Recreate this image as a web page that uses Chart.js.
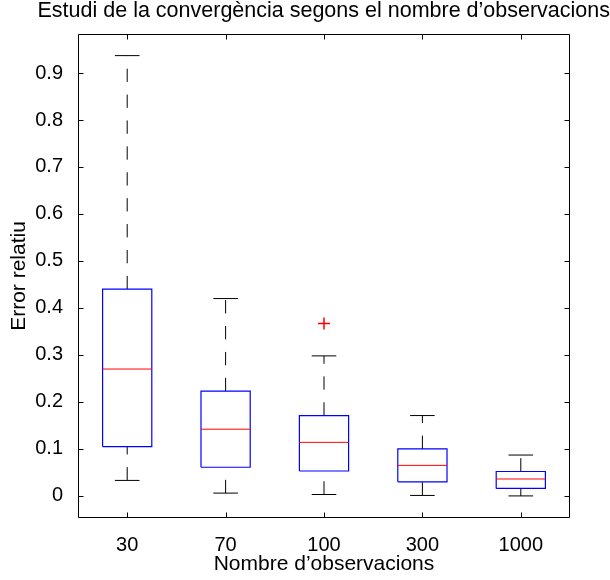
<!DOCTYPE html>
<html><head><meta charset="utf-8">
<script src="https://cdn.jsdelivr.net/npm/chart.js@4.4.1/dist/chart.umd.min.js"></script>
<style>html,body{margin:0;padding:0;background:#fff}#wrap{width:610px;height:580px}</style>
</head><body><div id="wrap"><canvas id="c" width="610" height="580"></canvas></div>
<script>
// ---- data ----
const categories   = ['30', '70', '100', '300', '1000'];
const lowerWhisker = [0.033, 0.006, 0.003, 0.001, 0.000];
const q1           = [0.105, 0.061, 0.053, 0.030, 0.016];
const median       = [0.270, 0.142, 0.114, 0.065, 0.036];
const q3           = [0.440, 0.223, 0.171, 0.100, 0.052];
const upperWhisker = [0.937, 0.420, 0.298, 0.171, 0.087];
const outliers     = [[], [], [0.367], [], []];
const yTicks       = [0, 0.1, 0.2, 0.3, 0.4, 0.5, 0.6, 0.7, 0.8, 0.9];
const yTickLabels  = ['0', '0.1', '0.2', '0.3', '0.4', '0.5', '0.6', '0.7', '0.8', '0.9'];
const titleText = 'Estudi de la convergència segons el nombre d’observacions';
const xTitle = 'Nombre d’observacions';
const yTitle = 'Error relatiu';

// ---- build datasets ----
const BOX_HALF = 0.25, CAP_HALF = 0.125;
const boxData = [], medData = [], whiskData = [], capData = [], outData = [];
categories.forEach((c, i) => {
  const p = i + 1;
  boxData.push({x: p - BOX_HALF, y: q1[i]}, {x: p + BOX_HALF, y: q1[i]}, {x: p + BOX_HALF, y: q3[i]},
               {x: p - BOX_HALF, y: q3[i]}, {x: p - BOX_HALF, y: q1[i]}, {x: p, y: null});
  medData.push({x: p - BOX_HALF, y: median[i]}, {x: p + BOX_HALF, y: median[i]}, {x: p, y: null});
  whiskData.push({x: p, y: q3[i]}, {x: p, y: upperWhisker[i]}, {x: p, y: null},
                 {x: p, y: lowerWhisker[i]}, {x: p, y: q1[i]}, {x: p, y: null});
  capData.push({x: p - CAP_HALF, y: upperWhisker[i]}, {x: p + CAP_HALF, y: upperWhisker[i]}, {x: p, y: null},
               {x: p - CAP_HALF, y: lowerWhisker[i]}, {x: p + CAP_HALF, y: lowerWhisker[i]}, {x: p, y: null});
  outliers[i].forEach(v => outData.push({x: p, y: v}));
});

const FONT = '"Liberation Sans", Arial, Helvetica, sans-serif';

const framePlugin = {
  id: 'frame',
  afterDatasetsDraw(chart) {
    const {ctx, chartArea, scales} = chart;
    const L = Math.round(chartArea.left) + 0.5, R = Math.round(chartArea.right) - 0.5;
    const T = Math.round(chartArea.top) + 0.5, B = Math.round(chartArea.bottom) - 0.5;
    const TL = 5;
    ctx.save();
    ctx.strokeStyle = '#000';
    ctx.lineWidth = 1;
    ctx.beginPath();
    ctx.rect(L, T, R - L, B - T);
    scales.y.ticks.forEach(t => {
      const yy = Math.round(scales.y.getPixelForValue(t.value)) + 0.5;
      ctx.moveTo(L, yy); ctx.lineTo(L + TL, yy);
      ctx.moveTo(R, yy); ctx.lineTo(R - TL, yy);
    });
    scales.x.ticks.forEach(t => {
      const xx = Math.round(scales.x.getPixelForValue(t.value)) + 0.5;
      ctx.moveTo(xx, B); ctx.lineTo(xx, B - TL);
      ctx.moveTo(xx, T); ctx.lineTo(xx, T + TL);
    });
    ctx.stroke();
    ctx.restore();
  }
};

new Chart(document.getElementById('c'), {
  type: 'line',
  data: {
    datasets: [
      {label: 'outliers', data: outData, showLine: false, pointStyle: 'cross', pointRadius: 6,
       pointBorderColor: '#ff0000', pointBorderWidth: 1.5, borderColor: '#ff0000'},
      {label: 'median', data: medData, borderColor: '#ff0000', borderWidth: 1, pointRadius: 0, spanGaps: false},
      {label: 'box', data: boxData, borderColor: '#0000ff', borderWidth: 1.2, pointRadius: 0, spanGaps: false},
      {label: 'caps', data: capData, borderColor: '#000000', borderWidth: 1, pointRadius: 0, spanGaps: false},
      {label: 'whiskers', data: whiskData, borderColor: '#000000', borderWidth: 1, borderDash: [13.3, 12.6],
       pointRadius: 0, spanGaps: false}
    ]
  },
  options: {
    responsive: false,
    animation: false,
    devicePixelRatio: 1,
    layout: {padding: 0},
    plugins: {
      legend: {display: false},
      tooltip: {enabled: false},
      title: {display: true, text: titleText, align: 'end', color: '#000',
              font: {family: FONT, size: 21.5, weight: 'normal', lineHeight: 1},
              padding: {top: 0, bottom: 12.5}}
    },
    scales: {
      x: {
        type: 'linear', position: 'bottom', min: 0.5, max: 5.5,
        grid: {display: false}, border: {display: false},
        afterBuildTicks: s => { s.ticks = categories.map((c, i) => ({value: i + 1})); },
        afterFit: s => { s.height = 62; },
        ticks: {color: '#000', padding: 7, maxRotation: 0, autoSkip: false,
                font: {family: FONT, size: 20, lineHeight: 1.2},
                callback: v => categories[Math.round(v) - 1]},
        title: {display: true, text: xTitle, color: '#000',
                font: {family: FONT, size: 21, lineHeight: 1}, padding: {top: 0, bottom: 5}}
      },
      y: {
        type: 'linear', position: 'left', min: -0.047, max: 0.983,
        grid: {display: false}, border: {display: false},
        afterBuildTicks: s => { s.ticks = yTicks.map(v => ({value: v})); },
        afterFit: s => { s.width = 78; },
        ticks: {color: '#000', padding: 7, autoSkip: false,
                font: {family: FONT, size: 20, lineHeight: 1.2},
                callback: v => yTickLabels[yTicks.indexOf(v)]},
        title: {display: true, text: yTitle, color: '#000',
                font: {family: FONT, size: 21, lineHeight: 1}, padding: {top: 9, bottom: 0}}
      },
      y2: {
        type: 'linear', position: 'right', display: true,
        grid: {display: false}, border: {display: false},
        ticks: {display: false},
        afterFit: s => { s.width = 40; }
      }
    }
  },
  plugins: [framePlugin]
});
</script>
</body></html>
